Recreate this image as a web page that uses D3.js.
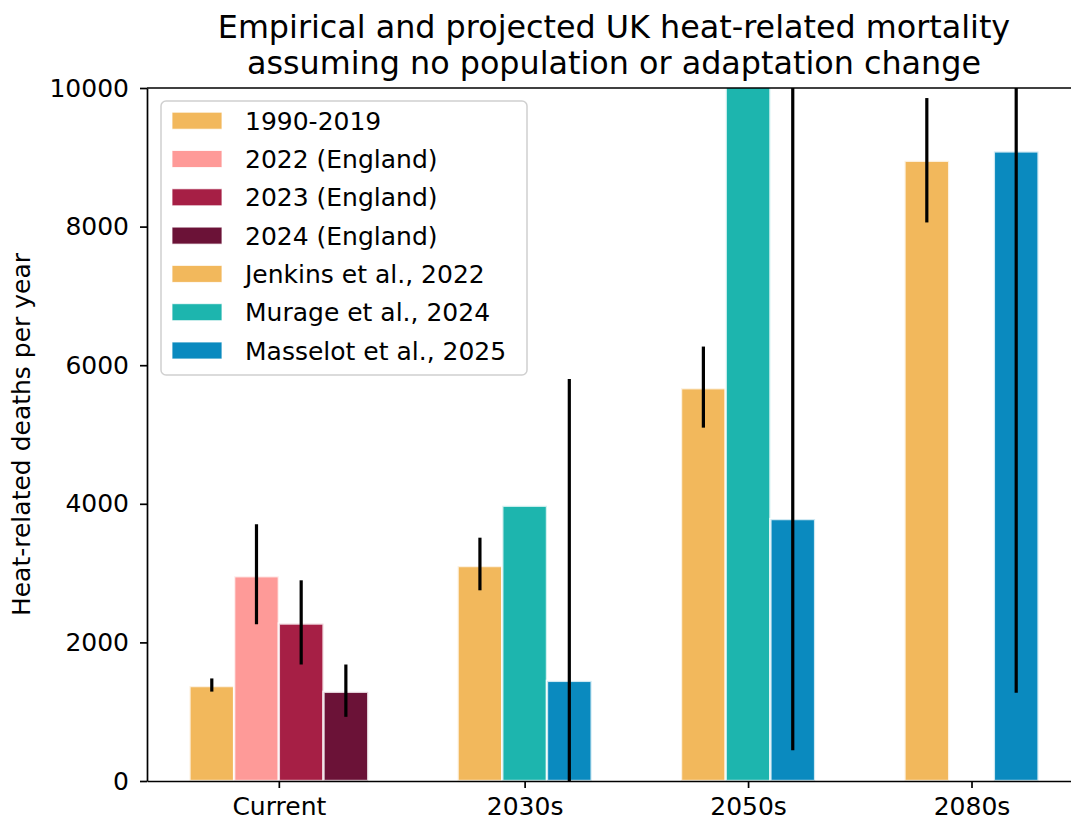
<!DOCTYPE html>
<html lang="en">
<head>
<meta charset="utf-8">
<title>UK heat-related mortality</title>
<script src="https://cdn.jsdelivr.net/npm/d3@7"></script>
<style>
  body { margin: 0; background: #fff; }
  text { font-family: "DejaVu Sans", sans-serif; fill: #000; }
</style>
</head>
<body>
<div id="chart"></div>
<script>
// categories on the x axis and where they sit
var categories = ["Current", "2030s", "2050s", "2080s"];
var catPos = [0, 1.1, 2.1, 3.1];

// empirical estimates (Current group only)
var empiricalNames = ["1990-2019", "2022 (England)", "2023 (England)", "2024 (England)"];
var empiricalValues = [1370, 2955, 2272, 1287];
var empiricalLow = [1290, 2262, 1681, 926];
var empiricalHigh = [1480, 3705, 2896, 1681];

// projections (2030s, 2050s, 2080s)
var projNames = ["Jenkins et al., 2022", "Murage et al., 2024", "Masselot et al., 2025"];
var jenkins = [3102, 5668, 8950];
var jenkinsLow = [2752, 5099, 8060];
var jenkinsHigh = [3511, 6269, 9855];
var murage = [3972, 11000, null];
var masselot = [1445, 3780, 9085];
var masselotLow = [0, 445, 1272];
var masselotHigh = [5802, 12500, 12500];

var yTicks = [0, 2000, 4000, 6000, 8000, 10000];

var empiricalColors = ["#f2b85c", "#fe9a98", "#a61f45", "#6b1237"];
var projColors = ["#f2b85c", "#1db5ae", "#0a8abf"];

var W = 1071, H = 823;
var margin = {left: 147, top: 88, right: 1081, bottom: 781};
var barW = 0.2;

var svg = d3.select("#chart").append("svg").attr("width", W).attr("height", H);

var x = d3.scaleLinear().domain([-0.59, 3.59]).range([margin.left, margin.right]);
var y = d3.scaleLinear().domain([0, 10000]).range([margin.bottom, margin.top]);

svg.append("defs").append("clipPath").attr("id", "plot")
  .append("rect")
  .attr("x", margin.left).attr("y", margin.top)
  .attr("width", margin.right - margin.left).attr("height", margin.bottom - margin.top);

// build bar records
var bars = [];
empiricalNames.forEach(function(n, i) {
  bars.push({pos: catPos[0] + (i - 1.5) * barW, v: empiricalValues[i], lo: empiricalLow[i], hi: empiricalHigh[i], color: empiricalColors[i]});
});
var projSeries = [
  {v: jenkins, lo: jenkinsLow, hi: jenkinsHigh},
  {v: murage, lo: null, hi: null},
  {v: masselot, lo: masselotLow, hi: masselotHigh}
];
projSeries.forEach(function(s, j) {
  s.v.forEach(function(v, k) {
    if (v == null) return;
    bars.push({pos: catPos[k + 1] + (j - 1) * barW, v: v,
      lo: s.lo ? s.lo[k] : null, hi: s.hi ? s.hi[k] : null, color: projColors[j]});
  });
});

var g = svg.append("g").attr("clip-path", "url(#plot)");
var bw = x(barW) - x(0);

g.selectAll("rect.bar").data(bars).enter().append("rect")
  .attr("class", "bar")
  .attr("x", function(d) { return x(d.pos) - bw / 2; })
  .attr("width", bw)
  .attr("y", function(d) { return y(d.v); })
  .attr("height", function(d) { return y(0) - y(d.v); })
  .attr("fill", function(d) { return d.color; })
  .attr("stroke", "#fff")
  .attr("stroke-opacity", 0.8)
  .attr("stroke-width", 2.4);

g.selectAll("line.err").data(bars.filter(function(d) { return d.lo != null; })).enter().append("line")
  .attr("class", "err")
  .attr("x1", function(d) { return x(d.pos); })
  .attr("x2", function(d) { return x(d.pos); })
  .attr("y1", function(d) { return y(d.lo); })
  .attr("y2", function(d) { return y(d.hi); })
  .attr("stroke", "#000")
  .attr("stroke-width", 3.2);

// axes
var xAxis = d3.axisBottom(x).tickValues(catPos)
  .tickFormat(function(d, i) { return categories[i]; })
  .tickSize(7).tickSizeOuter(0).tickPadding(9);
var gx = svg.append("g").attr("transform", "translate(0," + margin.bottom + ")").call(xAxis);

var yAxis = d3.axisLeft(y).tickValues(yTicks).tickFormat(d3.format("d"))
  .tickSize(7).tickSizeOuter(0).tickPadding(11);
var gy = svg.append("g").attr("transform", "translate(" + margin.left + ",0)").call(yAxis);

[gx, gy].forEach(function(a) {
  a.select(".domain").attr("stroke", "#000").attr("stroke-width", 1.7);
  a.selectAll(".tick line").attr("stroke", "#000").attr("stroke-width", 1.7);
  a.selectAll(".tick text").style("font-size", "25px").attr("fill", "#000");
});

// top spine
svg.append("line")
  .attr("x1", margin.left).attr("x2", margin.right)
  .attr("y1", margin.top).attr("y2", margin.top)
  .attr("stroke", "#000").attr("stroke-width", 1.7);

// title
var title = svg.append("text")
  .attr("x", (margin.left + margin.right) / 2)
  .attr("text-anchor", "middle")
  .style("font-size", "31.8px");
title.append("tspan").attr("x", (margin.left + margin.right) / 2).attr("y", 38)
  .text("Empirical and projected UK heat-related mortality");
title.append("tspan").attr("x", (margin.left + margin.right) / 2).attr("y", 74)
  .text("assuming no population or adaptation change");

// y label
svg.append("text")
  .attr("transform", "translate(30," + ((margin.top + margin.bottom) / 2) + ") rotate(-90)")
  .attr("text-anchor", "middle")
  .style("font-size", "25px")
  .text("Heat-related deaths per year");

// legend
var legendItems = empiricalNames.map(function(n, i) { return {name: n, color: empiricalColors[i]}; })
  .concat(projNames.map(function(n, i) { return {name: n, color: projColors[i]}; }));

var leg = svg.append("g");
leg.append("rect")
  .attr("x", 161).attr("y", 101).attr("width", 366).attr("height", 274)
  .attr("rx", 5)
  .attr("fill", "#fff").attr("fill-opacity", 0.8)
  .attr("stroke", "#d0d0d0").attr("stroke-width", 1.5);

var rowStep = 38.3;
var li = leg.selectAll("g.item").data(legendItems).enter().append("g")
  .attr("transform", function(d, i) { return "translate(0," + (120.7 + i * rowStep) + ")"; });
li.append("rect")
  .attr("x", 172).attr("y", -8.5).attr("width", 50).attr("height", 17)
  .attr("fill", function(d) { return d.color; })
  .attr("stroke", "#fff").attr("stroke-opacity", 0.8).attr("stroke-width", 1);
li.append("text")
  .attr("x", 245).attr("y", 9)
  .style("font-size", "25px")
  .text(function(d) { return d.name; });
</script>
</body>
</html>
